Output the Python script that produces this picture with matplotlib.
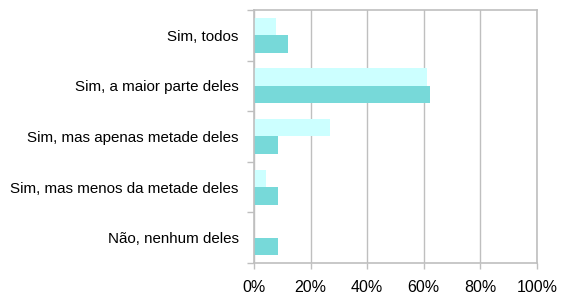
import matplotlib.pyplot as plt
import numpy as np
from matplotlib.ticker import FixedLocator, NullFormatter

plt.rcParams['font.family'] = ['Liberation Sans', 'DejaVu Sans']

categories = ["Sim, todos", "Sim, a maior parte deles", "Sim, mas apenas metade deles",
              "Sim, mas menos da metade deles", "Não, nenhum deles"]
serie_clara = [7.8, 61.3, 26.9, 4.1, 0.0]
serie_escura = [11.9, 62.2, 8.4, 8.4, 8.4]
x_ticks = [0, 20, 40, 60, 80, 100]

grey = "#bfbfbf"

fig = plt.figure(figsize=(5.62, 2.96), dpi=100)
ax = fig.add_axes([254 / 562, 1 - 263 / 296, 283 / 562, 253 / 296])

y = np.arange(len(categories))
h = 0.345
ax.barh(y - h / 2, serie_clara, height=h, color="#ccffff", zorder=2)
ax.barh(y + h / 2, serie_escura, height=h, color="#77d9d9", zorder=2)

ax.set_xlim(0, 100)
ax.set_ylim(len(categories) - 0.5, -0.5)
ax.set_xticks(x_ticks)
ax.set_xticklabels([f"{v}%" for v in x_ticks], fontsize=11.5)
ax.xaxis.grid(True, color=grey, linewidth=1, zorder=0)

ax.set_yticks(y)
ax.set_yticklabels(categories, fontsize=10.9)
ax.yaxis.set_minor_locator(FixedLocator(np.arange(-0.5, len(categories), 1)))
ax.yaxis.set_minor_formatter(NullFormatter())
ax.tick_params(axis="y", which="major", length=0, pad=11)
ax.tick_params(axis="y", which="minor", length=5, color=grey, width=1)
ax.tick_params(axis="x", length=4, color=grey, width=1, pad=8)

for s in ax.spines.values():
    s.set_color(grey)
    s.set_linewidth(1.2)

fig.savefig("out.png", dpi=100)
